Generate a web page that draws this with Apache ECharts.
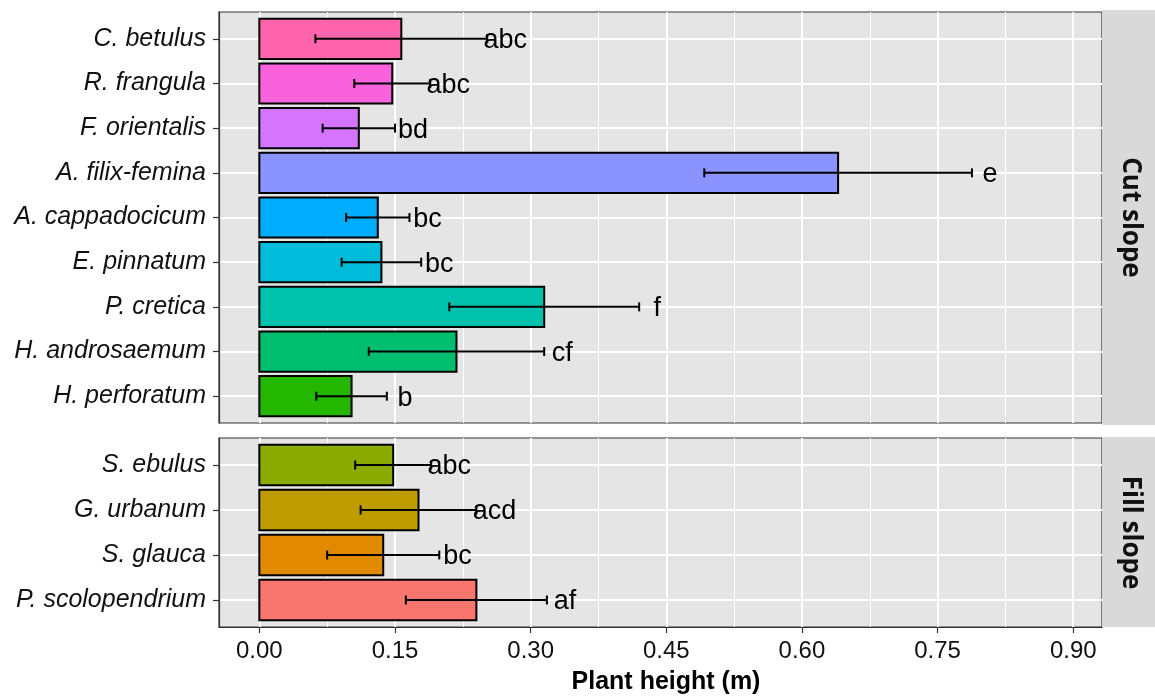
<!DOCTYPE html>
<html>
<head>
<meta charset="utf-8">
<script src="https://cdn.jsdelivr.net/npm/echarts@6/dist/echarts.min.js"></script>
<style>
  html, body { margin: 0; padding: 0; background: #fff; }
  #chart { width: 1155px; height: 696px; }
</style>
</head>
<body>
<div id="chart"></div>
<script>
// ---- Data ----
const cutSpecies = ['C. betulus', 'R. frangula', 'F. orientalis', 'A. filix-femina', 'A. cappadocicum',
                    'E. pinnatum', 'P. cretica', 'H. androsaemum', 'H. perforatum'];
const cutMean    = [0.157, 0.147, 0.110, 0.640, 0.131, 0.135, 0.315, 0.218, 0.102];
const cutSD      = [0.095, 0.042, 0.040, 0.148, 0.035, 0.044, 0.105, 0.097, 0.039];
const cutLetters = ['abc', 'abc', 'bd', 'e', 'bc', 'bc', 'f', 'cf', 'b'];
const cutColors  = ['#FF65AC', '#F962DD', '#D575FE', '#8B93FF', '#00ACFC',
                    '#00BBDA', '#00C1AB', '#00BE70', '#24B700'];

const fillSpecies = ['S. ebulus', 'G. urbanum', 'S. glauca', 'P. scolopendrium'];
const fillMean    = [0.148, 0.176, 0.137, 0.240];
const fillSD      = [0.042, 0.064, 0.062, 0.078];
const fillLetters = ['abc', 'acd', 'bc', 'af'];
const fillColors  = ['#8CAB00', '#BE9C00', '#E18A00', '#F8766D'];

const xTicks      = [0, 0.15, 0.30, 0.45, 0.60, 0.75, 0.90];
const xTickLabels = ['0.00', '0.15', '0.30', '0.45', '0.60', '0.75', '0.90'];
const panelNames  = ['Cut slope', 'Fill slope'];
const xTitle      = 'Plant height (m)';

// ---- Layout / style constants ----
const XMIN = -0.0446, XMAX = 0.9318;
const LABEL_NUDGE = 0.02;
const PANEL_LEFT = 219, PANEL_W = 883;
const P1_TOP = 12, P1_H = 411;
const P2_TOP = 438, P2_H = 189;
const STRIP_W = 53;
const PANEL_BG = '#E5E5E5';
const STRIP_BG = '#D9D9D9';
const AXIS_COL = '#333333';
const LABEL_FONT = '"Liberation Sans", Arial, sans-serif';

const xMinor = xTicks.slice(0, -1).map((t, i) => (t + xTicks[i + 1]) / 2);

function yAxisFor(gridIndex, names) {
  const idx = names.map((_, i) => i);
  return {
    type: 'value', gridIndex: gridIndex, inverse: true, position: 'left',
    min: -0.6, max: names.length - 1 + 0.6,
    axisLine: { show: true, onZero: false, lineStyle: { color: AXIS_COL, width: 1.2 } },
    axisTick: { show: true, length: 6, customValues: idx, lineStyle: { color: AXIS_COL, width: 1.2 } },
    axisLabel: {
      show: true, customValues: idx, margin: 13,
      formatter: v => names[Math.round(v)] || '',
      fontFamily: LABEL_FONT, fontStyle: 'italic', fontSize: 25, color: '#111'
    },
    splitLine: { show: true, lineStyle: { color: '#FFFFFF', width: 2 } }
  };
}

function xMajor(gridIndex, showLabels) {
  return {
    type: 'value', gridIndex: gridIndex, position: 'bottom', min: XMIN, max: XMAX,
    axisLine: { show: showLabels, onZero: false, lineStyle: { color: AXIS_COL, width: 1.2 } },
    axisTick: { show: showLabels, length: 6, customValues: xTicks, lineStyle: { color: AXIS_COL, width: 1.2 } },
    axisLabel: {
      show: showLabels, customValues: xTicks, margin: 12,
      formatter: v => { const i = xTicks.findIndex(t => Math.abs(t - v) < 1e-9); return i >= 0 ? xTickLabels[i] : ''; },
      fontFamily: LABEL_FONT, fontSize: 24, color: '#111'
    },
    splitLine: { show: true, lineStyle: { color: '#FFFFFF', width: 2 } }
  };
}

function xMinorAxis(gridIndex) {
  return {
    type: 'value', gridIndex: gridIndex, position: 'bottom', min: XMIN, max: XMAX,
    axisLine: { show: false, onZero: false }, axisTick: { show: false, customValues: xMinor },
    axisLabel: { show: false },
    splitLine: { show: true, lineStyle: { color: '#FFFFFF', width: 1 } }
  };
}

function barSeries(xAxisIndex, yAxisIndex, means, sds, colors) {
  return {
    type: 'custom', xAxisIndex: xAxisIndex, yAxisIndex: yAxisIndex, z: 3,
    data: means.map((m, i) => [m, i, sds[i]]),
    renderItem: (params, api) => {
      const v = api.value(0), idx = api.value(1);
      const p0 = api.coord([0, idx]);
      const p1 = api.coord([v, idx]);
      const h = api.size([0, 0.9])[1];
      return {
        type: 'rect',
        shape: { x: p0[0], y: p0[1] - h / 2, width: p1[0] - p0[0], height: h },
        style: { fill: colors[params.dataIndex], stroke: '#000', lineWidth: 2 }
      };
    }
  };
}

function errSeries(xAxisIndex, yAxisIndex, means, sds, letters) {
  return {
    type: 'custom', xAxisIndex: xAxisIndex, yAxisIndex: yAxisIndex, z: 4,
    data: means.map((m, i) => [m, i, sds[i]]),
    renderItem: (params, api) => {
      const v = api.value(0), idx = api.value(1), sd = api.value(2);
      const lo = api.coord([v - sd, idx]);
      const hi = api.coord([v + sd, idx]);
      const lab = api.coord([v + sd + LABEL_NUDGE, idx]);
      const cap = api.size([0, 0.2])[1] / 2;
      const ls = { stroke: '#000', lineWidth: 2 };
      return {
        type: 'group',
        children: [
          { type: 'line', shape: { x1: lo[0], y1: lo[1], x2: hi[0], y2: hi[1] }, style: ls },
          { type: 'line', shape: { x1: lo[0], y1: lo[1] - cap, x2: lo[0], y2: lo[1] + cap }, style: ls },
          { type: 'line', shape: { x1: hi[0], y1: hi[1] - cap, x2: hi[0], y2: hi[1] + cap }, style: ls },
          { type: 'text', x: lab[0], y: lab[1] + 2,
            style: { text: letters[params.dataIndex], fill: '#000', fontSize: 27,
                     fontFamily: LABEL_FONT, align: 'center', verticalAlign: 'middle' } }
        ]
      };
    }
  };
}

const stripText = (name, top, h) => ({
  type: 'text',
  x: PANEL_LEFT + PANEL_W + STRIP_W / 2 + 2, y: top + h / 2,
  rotation: -Math.PI / 2,
  style: { text: name, fill: '#111', fontSize: 26, fontWeight: 'bold',
           fontFamily: '"Open Sans", "DejaVu Sans", sans-serif',
           align: 'center', verticalAlign: 'middle' },
  z: 10
});

const option = {
  animation: false,
  backgroundColor: '#FFFFFF',
  grid: [
    { left: PANEL_LEFT, top: P1_TOP, width: PANEL_W, height: P1_H, show: true,
      backgroundColor: PANEL_BG, borderColor: AXIS_COL, borderWidth: 1.2, containLabel: false },
    { left: PANEL_LEFT, top: P2_TOP, width: PANEL_W, height: P2_H, show: true,
      backgroundColor: PANEL_BG, borderColor: AXIS_COL, borderWidth: 1.2, containLabel: false }
  ],
  xAxis: [ xMinorAxis(0), xMajor(0, false), xMinorAxis(1), xMajor(1, true) ],
  yAxis: [ yAxisFor(0, cutSpecies), yAxisFor(1, fillSpecies) ],
  series: [
    barSeries(1, 0, cutMean, cutSD, cutColors),
    errSeries(1, 0, cutMean, cutSD, cutLetters),
    barSeries(3, 1, fillMean, fillSD, fillColors),
    errSeries(3, 1, fillMean, fillSD, fillLetters)
  ],
  graphic: [
    { type: 'rect', shape: { x: PANEL_LEFT + PANEL_W, y: P1_TOP - 2, width: STRIP_W + 2, height: P1_H + 4 },
      style: { fill: STRIP_BG }, z: 9 },
    { type: 'rect', shape: { x: PANEL_LEFT + PANEL_W, y: P2_TOP - 1, width: STRIP_W + 2, height: P2_H + 1 },
      style: { fill: STRIP_BG }, z: 9 },
    stripText(panelNames[0], P1_TOP, P1_H),
    stripText(panelNames[1], P2_TOP, P2_H),
    { type: 'text', x: 666, y: 682,
      style: { text: xTitle, fill: '#000', fontSize: 25, fontWeight: 'bold', fontFamily: LABEL_FONT,
               align: 'center', verticalAlign: 'middle' }, z: 10 }
  ]
};

const chart = echarts.init(document.getElementById('chart'), null, { renderer: 'canvas' });
chart.setOption(option);
</script>
</body>
</html>
